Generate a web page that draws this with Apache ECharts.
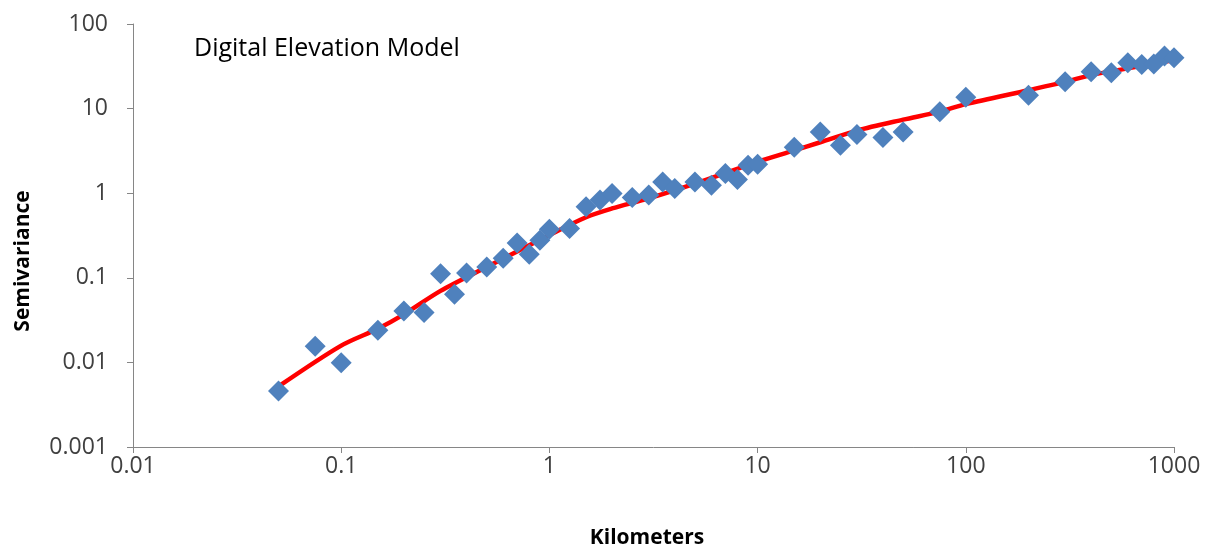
<!DOCTYPE html>
<html>
<head>
<meta charset="utf-8">
<style>
  html, body { margin: 0; padding: 0; background: #fff; }
  #chart { width: 1209px; height: 549px; }
</style>
<script src="https://cdn.jsdelivr.net/npm/echarts@6/dist/echarts.min.js"></script>
</head>
<body>
<div id="chart"></div>
<script>
// Lag distances (km) and measured semivariance
const distKm = [0.05, 0.075, 0.1, 0.15, 0.2, 0.25, 0.3, 0.35, 0.4, 0.5,
  0.6, 0.7, 0.8, 0.9, 1, 1.25, 1.5, 1.75, 2, 2.5,
  3, 3.5, 4, 5, 6, 7, 8, 9, 10, 15,
  20, 25, 30, 40, 50, 75, 100, 200, 300, 400,
  500, 600, 700, 800, 900, 1000];
const semivar = [0.0046, 0.0155, 0.0099, 0.024, 0.0405, 0.039, 0.112, 0.064, 0.114, 0.134,
  0.17, 0.258, 0.19, 0.278, 0.375, 0.382, 0.69, 0.83, 0.99, 0.89,
  0.95, 1.36, 1.14, 1.36, 1.24, 1.71, 1.45, 2.14, 2.2, 3.5,
  5.3, 3.7, 4.95, 4.55, 5.3, 9.2, 13.6, 14.4, 20.7, 27.2,
  26.5, 34.8, 33.3, 33.6, 41.8, 39.8];

// Fitted model curve
const fitKm = [0.05, 0.1, 0.15, 0.2, 0.3, 0.5, 1, 1.5, 2, 3, 5, 10, 15, 20, 30, 50, 75, 100, 200, 300, 400, 600, 1000];
const fitSemivar = [0.0052, 0.0158, 0.025, 0.037, 0.070, 0.134, 0.32, 0.52, 0.66, 0.87, 1.3, 2.35, 3.2, 4.0, 5.5, 7.4, 9.2, 11.3, 16.5, 20.7, 24.9, 29.9, 37.4];

// Tick labels
const xTickLabels = ['0.01', '0.1', '1', '10', '100', '1000'];
const yTickLabels = ['0.001', '0.01', '0.1', '1', '10', '100'];

const FONT = '"Open Sans", "Noto Sans", sans-serif';
const chart = echarts.init(document.getElementById('chart'), null, { renderer: 'canvas' });

function labelFor(list, minExp) {
  return function (v) {
    const i = Math.round(Math.log10(v)) - minExp;
    return list[i] !== undefined ? list[i] : '';
  };
}

const axisCommon = {
  type: 'log',
  logBase: 10,
  splitLine: { show: false },
  minorTick: { show: false },
  axisLine: { show: true, lineStyle: { color: '#868686', width: 1 } },
  axisTick: { show: true, length: 6, lineStyle: { color: '#868686', width: 1 } },
  axisLabel: { color: '#404040', fontFamily: FONT, fontSize: 23 }
};

chart.setOption({
  animation: false,
  backgroundColor: '#ffffff',
  grid: { left: 133, right: 35, top: 24, bottom: 102, containLabel: false },
  xAxis: Object.assign({}, axisCommon, {
    min: 0.01, max: 1000,
    axisLabel: Object.assign({}, axisCommon.axisLabel, { margin: 8, formatter: labelFor(xTickLabels, -2) })
  }),
  yAxis: Object.assign({}, axisCommon, {
    min: 0.001, max: 100,
    axisLabel: Object.assign({}, axisCommon.axisLabel, { margin: 25, formatter: labelFor(yTickLabels, -3) })
  }),
  graphic: [
    {
      type: 'text', left: 194, top: 36,
      style: { text: 'Digital Elevation Model', fill: '#000000', font: '25px ' + FONT }
    },
    {
      type: 'text', x: 647, y: 538,
      style: { text: 'Kilometers', fill: '#000000', font: 'bold 21px ' + FONT, align: 'center', verticalAlign: 'middle' }
    },
    {
      type: 'text', x: 23, y: 261, rotation: Math.PI / 2,
      style: { text: 'Semivariance', fill: '#000000', font: 'bold 21px ' + FONT, align: 'center', verticalAlign: 'middle' }
    }
  ],
  series: [
    {
      name: 'Model',
      type: 'line',
      data: fitKm.map((x, i) => [x, fitSemivar[i]]),
      smooth: 0.3,
      showSymbol: false,
      lineStyle: { color: '#ff0000', width: 4.5 },
      z: 2
    },
    {
      name: 'Semivariance',
      type: 'scatter',
      data: distKm.map((x, i) => [x, semivar[i]]),
      symbol: 'diamond',
      symbolSize: 21,
      itemStyle: { color: '#4f81bd', opacity: 1 },
      z: 3
    }
  ]
});
</script>
</body>
</html>
